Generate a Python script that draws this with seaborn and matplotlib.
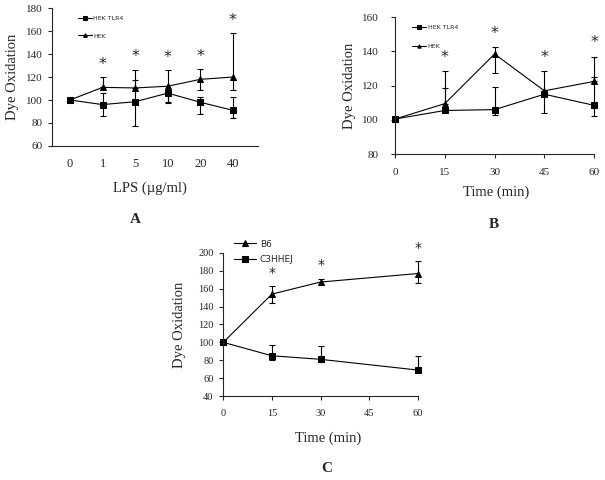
import numpy as np
import pandas as pd
import matplotlib
matplotlib.use("Agg")
import matplotlib.pyplot as plt
import seaborn as sns

# ---- data ----
# panel A: LPS dose
lps_labels = ["0", "1", "5", "10", "20", "40"]
a_tlr4 = [100, 96, 98.5, 106, 98, 91]
a_tlr4_lo = [0, 10, 21, 9, 10, 7]
a_tlr4_hi = [0, 10, 19, 0, 5, 12]
a_hek = [100, 111, 110.5, 112, 118, 120]
a_hek_lo = [0, 0, 0, 14, 9, 11]
a_hek_hi = [0, 9, 16, 14, 9, 38]
a_star = [False, True, True, True, True, True]

# panel B: time course, HEK cells
b_time = [0, 15, 30, 45, 60]
b_tlr4 = [100.5, 105.5, 106, 115, 108.5]
b_tlr4_lo = [0, 0, 3, 11, 6]
b_tlr4_hi = [0, 13, 13, 0, 16.5]
b_hek = [100.5, 109.5, 138.5, 117, 122.5]
b_hek_lo = [0, 0, 11, 0, 0]
b_hek_hi = [0, 19, 4, 11.5, 14.5]
b_star = [False, True, True, True, True]

# panel C: time course, mice
c_time = [0, 15, 30, 60]
c_b6 = [100, 154, 167.5, 177]
c_b6_lo = [0, 9.5, 3, 11]
c_b6_hi = [0, 8.5, 3.5, 13.5]
c_c3 = [100, 85, 81, 69]
c_c3_lo = [0, 5, 2.5, 0]
c_c3_hi = [0, 12.5, 14.5, 16]
c_star = [False, True, True, True]

sns.set_style("ticks")
plt.rcParams["font.family"] = ["Liberation Serif", "DejaVu Serif"]
plt.rcParams["axes.linewidth"] = 0.8

fig = plt.figure(figsize=(6.05, 4.8), dpi=100)
axA = fig.add_axes([0.086, 0.696, 0.340, 0.287])
axB = fig.add_axes([0.653, 0.679, 0.329, 0.285])
axC = fig.add_axes([0.369, 0.175, 0.322, 0.298])


def draw_series(ax, x, y, lo, hi, marker, label, ms):
    sns.lineplot(x=x, y=y, ax=ax, color="black", marker=marker, markersize=ms,
                 markeredgecolor="black", linewidth=0.8, label=label)
    eb = ax.errorbar(x, y, yerr=[lo, hi], fmt="none", ecolor="black",
                     elinewidth=0.8, capsize=2.5, capthick=0.8)
    for art in eb.get_children():
        art.set_clip_on(False)


def stars(ax, x, y, hi, flags, off, size):
    for xi, yi, hii, f in zip(x, y, hi, flags):
        if f:
            ax.text(xi, yi + hii + off, "*", ha="center", va="center",
                    fontsize=size, family="DejaVu Sans")


# ---- A ----
xa = np.arange(len(lps_labels))
draw_series(axA, xa, a_tlr4, a_tlr4_lo, a_tlr4_hi, "s", "HEK TLR4", 4.5)
draw_series(axA, xa, a_hek, a_hek_lo, a_hek_hi, "^", "HEK", 4.5)
stars(axA, xa, a_hek, a_hek_hi, a_star, 11, 11.5)
axA.set_xlim(-0.55, 5.76)
axA.set_ylim(60, 180)
axA.set_yticks(range(60, 181, 20))
axA.set_xticks(xa)
axA.set_xticklabels(lps_labels)
axA.tick_params(axis="x", length=0, pad=9, labelsize=9)
axA.tick_params(axis="y", length=3, width=0.8, pad=4, labelsize=8)
axA.set_xlabel("LPS (\u00b5g/ml)", fontsize=10.5)
axA.set_ylabel("Dye Oxidation", fontsize=10.5)
axA.xaxis.set_label_coords(0.476, -0.26)
axA.yaxis.set_label_coords(-0.16, 0.5)
axA.legend(loc="upper left", bbox_to_anchor=(0.11, 0.97), frameon=False,
           prop={"family": "DejaVu Sans", "size": 4.5}, handlelength=2.2,
           handletextpad=0.3, labelspacing=2.0, borderpad=0, markerscale=0.6)

# ---- B ----
draw_series(axB, b_time, b_tlr4, b_tlr4_lo, b_tlr4_hi, "s", "HEK TLR4", 4)
draw_series(axB, b_time, b_hek, b_hek_lo, b_hek_hi, "^", "HEK", 4)
stars(axB, b_time, b_hek, b_hek_hi, b_star, 8, 11.5)
axB.set_xlim(0, 60)
axB.set_ylim(80, 160)
axB.set_xticks(b_time)
axB.set_yticks(range(80, 161, 20))
axB.tick_params(axis="both", length=3, width=0.8, labelsize=8)
axB.tick_params(axis="x", pad=7)
axB.tick_params(axis="y", pad=9)
axB.set_xlabel("Time (min)", fontsize=10.5)
axB.set_ylabel("Dye Oxidation", fontsize=10.5)
axB.xaxis.set_label_coords(0.507, -0.227)
axB.yaxis.set_label_coords(-0.196, 0.5)
axB.legend(loc="upper left", bbox_to_anchor=(0.07, 0.97), frameon=False,
           prop={"family": "DejaVu Sans", "size": 4.5}, handlelength=2.2,
           handletextpad=0.3, labelspacing=2.2, borderpad=0, markerscale=0.6)

# ---- C ----
draw_series(axC, c_time, c_b6, c_b6_lo, c_b6_hi, "^", "B6", 4.5)
draw_series(axC, c_time, c_c3, c_c3_lo, c_c3_hi, "s", "C3HHEJ", 4.5)
stars(axC, c_time, c_b6, c_b6_hi, c_star, 15, 10)
axC.set_xlim(0, 60)
axC.set_ylim(40, 200)
axC.set_xticks(range(0, 61, 15))
axC.set_yticks(range(40, 201, 20))
axC.tick_params(axis="both", length=3, width=0.8, labelsize=7.5)
axC.tick_params(axis="x", pad=6)
axC.tick_params(axis="y", pad=4)
axC.set_xlabel("Time (min)", fontsize=10.5)
axC.set_ylabel("Dye Oxidation", fontsize=10.5)
axC.xaxis.set_label_coords(0.536, -0.245)
axC.yaxis.set_label_coords(-0.19, 0.5)
axC.legend(loc="upper left", bbox_to_anchor=(0.03, 1.125), frameon=False,
           prop={"family": "DejaVu Sans", "size": 6.5}, handlelength=2.5,
           handletextpad=0.4, labelspacing=0.7, borderpad=0, markerscale=0.9)

for ax in (axA, axB, axC):
    sns.despine(ax=ax)
    for art in ax.lines + ax.texts:
        art.set_clip_on(False)

fig.text(135 / 605, 1 - 220 / 480, "A", ha="center", va="center",
         fontsize=11, fontweight="bold")
fig.text(494 / 605, 1 - 225 / 480, "B", ha="center", va="center",
         fontsize=11, fontweight="bold")
fig.text(327 / 605, 1 - 468 / 480, "C", ha="center", va="center",
         fontsize=11, fontweight="bold")

fig.savefig("out.png", dpi=100)
